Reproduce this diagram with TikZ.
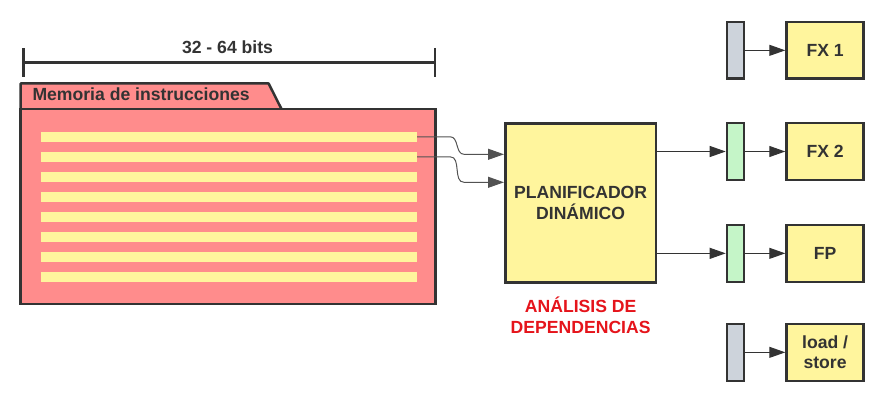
\documentclass[tikz,border=0pt]{standalone}
\usepackage{fontspec}
\setmainfont{Liberation Sans}
\usetikzlibrary{positioning, arrows.meta}
\definecolor{ink}{HTML}{333333}
\definecolor{memred}{HTML}{FF8C8C}
\definecolor{boxyel}{HTML}{FFF59D}
\definecolor{reggreen}{HTML}{C5F5C8}
\definecolor{reggray}{HTML}{CDD3DB}
\definecolor{deptext}{HTML}{E5141B}
\begin{document}
\begin{tikzpicture}[x=1pt, y=-1pt,
     node distance = 40pt and 40pt,
              font = \bfseries\fontsize{17.6}{20.5}\selectfont,
 every node/.style = {text=ink},
        mem/.style = {rectangle, draw=ink, fill=memred, line width=2.5pt,
                      minimum width=415pt, minimum height=194.5pt},
     stripe/.style = {rectangle, fill=boxyel, inner sep=0pt,
                      minimum width=376pt, minimum height=9.5pt},
    planbox/.style = {rectangle, draw=ink, fill=boxyel, line width=2.5pt, align=center,
                      minimum width=150.8pt, minimum height=159.2pt},
        reg/.style = {rectangle, draw=ink, line width=2.5pt, inner sep=0pt,
                      minimum width=17.1pt, minimum height=56.8pt},
      unitb/.style = {rectangle, draw=ink, fill=boxyel, line width=2.5pt, align=center,
                      inner sep=1pt, minimum width=77.1pt, minimum height=56.8pt},
       conn/.style = {draw=ink, line width=1pt, -{Triangle[length=16pt,width=11pt]}},
       wire/.style = {draw=ink!85, line width=1pt, -{Triangle[length=16pt,width=11pt]}}
                    ]
\useasboundingbox (0,0) rectangle (885,401);
% ancho de palabra
\coordinate (dimL) at (22.3,62.3);
\coordinate (dimR) at (436.3,62.3);
\draw[ink, line width=2.5pt, {Bar[width=29pt]}-{Bar[width=29pt]}] (dimL) -- (dimR);
\node (bits) [anchor=base] at (227.5,54) {32 - 64 bits};
% memoria
\draw[draw=ink, fill=memred, line width=2.5pt, line join=round]
   (20.6,109) -- (20.6,83.5) -- (268.6,83.5) -- (281.5,109);
\node (memory) [mem] at (228,206.5) {};
\node (memlbl) [anchor=base west] at (29,100) {Memoria de instrucciones};
\foreach \i in {1,...,8}
   \node (s\i) [stripe] at (229,116.8+20*\i) {};
% planificador
\node (plan) [planbox] at (580.65,202.85) {PLANIFICADOR\\DINÁMICO};
\node (dep) [below=10pt of plan, text=deptext, align=center] {ANÁLISIS DE\\DEPENDENCIAS};
\coordinate (in1) at ([yshift=-32.3pt]plan.north west);
\coordinate (in2) at ([yshift=-60.3pt]plan.north west);
\draw[wire] (s1.east) -- ++(33,0) to[out=0, in=180] ([xshift=-40pt]in1) -- (in1);
\draw[wire] (s2.east) -- ++(33,0) to[out=0, in=180] ([xshift=-40pt]in2) -- (in2);
% registros y unidades
\node (reg1) [reg, fill=reggray]  at (735.5,50.35) {};
\node (reg2) [reg, fill=reggreen] at (735.5,151.5) {};
\node (reg3) [reg, fill=reggreen] at (735.5,253.35) {};
\node (reg4) [reg, fill=reggray]  at (735.5,352.35) {};
\node (fx1) [unitb, right=of reg1] {FX 1};
\node (fx2) [unitb, right=of reg2] {FX 2};
\node (fp)  [unitb, right=of reg3] {FP};
\node (ls)  [unitb, right=of reg4] {load /\\store};
\draw[conn] (plan.east |- reg2) -- (reg2);
\draw[conn] (plan.east |- reg3) -- (reg3);
\draw[conn] (reg1) -- (fx1);
\draw[conn] (reg2) -- (fx2);
\draw[conn] (reg3) -- (fp);
\draw[conn] (reg4) -- (ls);
\end{tikzpicture}
\end{document}
